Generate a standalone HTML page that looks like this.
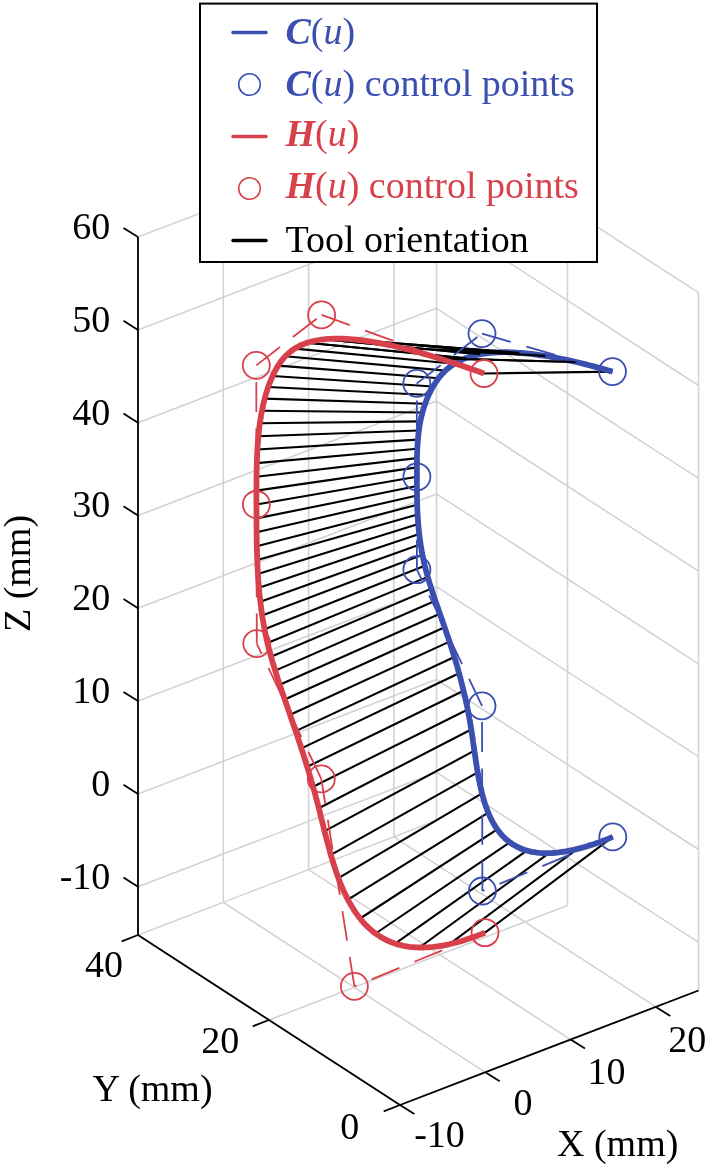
<!DOCTYPE html>
<html><head><meta charset="utf-8"><title>Figure</title>
<style>
html,body{margin:0;padding:0;background:#fff}
svg{display:block}
text{font-family:"Liberation Serif","Times New Roman",serif;font-size:38px}
.g{stroke:#d3d3d3;stroke-width:1.6}
.a{stroke:#000;stroke-width:1.8}
.t{stroke:#000;stroke-width:2.1;fill:none}
.cb{stroke:#3a4fb0;fill:none}
.cr{stroke:#d8404c;fill:none}
.d{stroke-width:1.8;stroke-dasharray:30 16.3}
.k{stroke-width:5.8;stroke-linejoin:round}
.o{stroke-width:1.8}
.o2{stroke-width:1.5}
.lk{stroke-width:3.5;stroke-linecap:round}
.bi{font-weight:bold;font-style:italic}
.i{font-style:italic}
</style></head><body>
<svg width="708" height="1167" viewBox="0 0 708 1167">
<rect width="708" height="1167" fill="#fff"/>
<line x1="138.0" y1="886.7" x2="436.5" y2="772.3" class="g"/>
<line x1="436.5" y1="772.3" x2="698.5" y2="942.3" class="g"/>
<line x1="138.0" y1="793.9" x2="436.5" y2="679.5" class="g"/>
<line x1="436.5" y1="679.5" x2="698.5" y2="849.5" class="g"/>
<line x1="138.0" y1="701.1" x2="436.5" y2="586.7" class="g"/>
<line x1="436.5" y1="586.7" x2="698.5" y2="756.7" class="g"/>
<line x1="138.0" y1="608.3" x2="436.5" y2="493.9" class="g"/>
<line x1="436.5" y1="493.9" x2="698.5" y2="663.9" class="g"/>
<line x1="138.0" y1="515.5" x2="436.5" y2="401.1" class="g"/>
<line x1="436.5" y1="401.1" x2="698.5" y2="571.1" class="g"/>
<line x1="138.0" y1="422.7" x2="436.5" y2="308.3" class="g"/>
<line x1="436.5" y1="308.3" x2="698.5" y2="478.3" class="g"/>
<line x1="138.0" y1="329.9" x2="436.5" y2="215.5" class="g"/>
<line x1="436.5" y1="215.5" x2="698.5" y2="385.5" class="g"/>
<line x1="138.0" y1="237.1" x2="436.5" y2="122.7" class="g"/>
<line x1="436.5" y1="122.7" x2="698.5" y2="292.7" class="g"/>
<line x1="138.0" y1="935.0" x2="138.0" y2="237.1" class="g"/>
<line x1="138.0" y1="935.0" x2="400.0" y2="1105.0" class="g"/>
<line x1="223.3" y1="902.3" x2="223.3" y2="204.4" class="g"/>
<line x1="223.3" y1="902.3" x2="485.3" y2="1072.3" class="g"/>
<line x1="308.6" y1="869.6" x2="308.6" y2="171.7" class="g"/>
<line x1="308.6" y1="869.6" x2="570.6" y2="1039.6" class="g"/>
<line x1="393.9" y1="836.9" x2="393.9" y2="139.0" class="g"/>
<line x1="393.9" y1="836.9" x2="655.9" y2="1006.9" class="g"/>
<line x1="698.5" y1="990.5" x2="698.5" y2="292.7" class="g"/>
<line x1="698.5" y1="990.5" x2="400.0" y2="1105.0" class="g"/>
<line x1="567.5" y1="905.5" x2="567.5" y2="207.7" class="g"/>
<line x1="567.5" y1="905.5" x2="269.0" y2="1020.0" class="g"/>
<line x1="436.5" y1="820.5" x2="436.5" y2="122.7" class="g"/>
<line x1="436.5" y1="820.5" x2="138.0" y2="935.0" class="g"/>
<line x1="138.0" y1="935.0" x2="138.0" y2="237.1" class="a"/>
<line x1="138.0" y1="935.0" x2="400.0" y2="1105.0" class="a"/>
<line x1="400.0" y1="1105.0" x2="698.5" y2="990.5" class="a"/>
<line x1="138.0" y1="886.7" x2="123.5" y2="877.5" class="a"/>
<line x1="138.0" y1="793.9" x2="123.5" y2="784.7" class="a"/>
<line x1="138.0" y1="701.1" x2="123.5" y2="691.9" class="a"/>
<line x1="138.0" y1="608.3" x2="123.5" y2="599.1" class="a"/>
<line x1="138.0" y1="515.5" x2="123.5" y2="506.3" class="a"/>
<line x1="138.0" y1="422.7" x2="123.5" y2="413.5" class="a"/>
<line x1="138.0" y1="329.9" x2="123.5" y2="320.7" class="a"/>
<line x1="138.0" y1="237.1" x2="123.5" y2="227.9" class="a"/>
<line x1="400.0" y1="1105.0" x2="383.7" y2="1111.3" class="a"/>
<line x1="269.0" y1="1020.0" x2="252.7" y2="1026.3" class="a"/>
<line x1="138.0" y1="935.0" x2="121.7" y2="941.3" class="a"/>
<line x1="400.0" y1="1105.0" x2="414.4" y2="1114.0" class="a"/>
<line x1="485.3" y1="1072.3" x2="499.7" y2="1081.3" class="a"/>
<line x1="570.6" y1="1039.6" x2="585.0" y2="1048.6" class="a"/>
<line x1="655.9" y1="1006.9" x2="670.3" y2="1015.9" class="a"/>
<path d="M612.5 371.6L484.0 373.5 M576.2 362.0L439.1 358.4 M545.3 355.9L401.2 347.8 M519.3 352.8L369.8 341.4 M497.7 352.4L344.1 338.7 M480.0 354.3L323.5 339.3 M465.7 358.2L307.3 342.7 M454.4 363.8L294.8 348.6 M445.5 370.6L285.3 356.3 M438.6 378.3L278.1 365.6 M433.1 386.5L272.6 376.0 M428.7 395.0L268.2 387.0 M425.2 403.7L264.7 398.6 M422.4 412.5L261.9 410.8 M420.4 421.4L259.9 423.3 M418.9 430.5L258.4 436.3 M417.9 439.6L257.4 449.5 M417.3 448.8L256.8 463.1 M417.0 458.1L256.5 476.8 M416.9 467.4L256.4 490.6 M416.9 476.7L256.4 504.5 M416.9 486.0L256.5 518.4 M417.0 495.4L256.6 532.3 M417.2 504.8L256.8 546.2 M417.6 514.4L257.3 560.1 M418.3 524.1L257.9 574.0 M419.2 534.1L259.0 587.8 M420.6 544.3L260.3 601.7 M422.5 554.8L262.2 615.5 M424.8 565.7L264.5 629.2 M427.7 576.9L267.5 643.0 M431.3 588.6L271.0 656.7 M435.4 600.8L275.2 670.6 M439.9 613.7L279.7 684.8 M444.6 627.2L284.7 699.5 M449.5 641.6L290.1 714.8 M454.3 657.0L295.6 731.1 M459.1 673.3L301.4 748.4 M463.6 690.8L307.2 766.8 M467.7 709.5L313.1 786.7 M471.2 729.5L318.8 808.2 M474.4 750.7L324.6 831.2 M477.7 772.3L330.9 854.9 M482.0 793.3L338.4 878.1 M488.3 812.7L347.9 899.7 M497.2 829.3L360.1 918.5 M509.8 842.3L375.6 933.5 M526.8 850.6L395.1 943.6 M549.1 853.1L419.4 947.5 M577.4 848.9L449.1 944.3 M612.8 836.9L485.0 932.7" class="t"/>
<polyline points="612.5,371.6 607.6,370.2 602.9,368.9 598.2,367.6 593.6,366.4 589.1,365.2 584.7,364.1 580.4,363.0 576.1,362.0 572.0,361.1 567.9,360.2 563.9,359.3 560.0,358.5 556.2,357.8 552.4,357.1 548.7,356.4 545.2,355.8 541.6,355.3 538.2,354.8 534.8,354.3 531.5,353.9 528.3,353.6 525.2,353.3 522.1,353.0 519.1,352.8 516.2,352.6 513.3,352.4 510.5,352.3 507.8,352.2 505.1,352.2 502.5,352.2 500.0,352.3 497.5,352.4 495.1,352.5 492.7,352.7 490.4,352.9 488.2,353.1 486.0,353.4 483.9,353.6 481.8,354.0 479.8,354.3 477.8,354.7 475.9,355.2 474.1,355.6 472.2,356.1 470.5,356.6 468.8,357.1 467.1,357.7 465.5,358.3 464.0,358.9 462.4,359.5 461.0,360.2 459.5,360.9 458.1,361.6 456.8,362.3 455.5,363.1 454.2,363.9 453.0,364.7 451.8,365.5 450.6,366.3 449.5,367.2 448.4,368.0 447.4,368.9 446.3,369.8 445.3,370.7 444.4,371.6 443.5,372.6 442.5,373.5 441.7,374.5 440.8,375.5 440.0,376.4 439.2,377.4 438.4,378.4 437.7,379.5 437.0,380.5 436.2,381.5 435.6,382.5 434.9,383.6 434.2,384.6 433.6,385.7 433.0,386.7 432.4,387.8 431.8,388.8 431.2,389.9 430.7,391.0 430.1,392.0 429.6,393.1 429.1,394.2 428.6,395.2 428.1,396.3 427.6,397.4 427.2,398.5 426.7,399.6 426.3,400.7 425.9,401.8 425.5,402.8 425.1,403.9 424.7,405.0 424.3,406.1 424.0,407.2 423.6,408.3 423.3,409.4 423.0,410.6 422.7,411.7 422.3,412.8 422.1,413.9 421.8,415.0 421.5,416.1 421.2,417.2 421.0,418.4 420.8,419.5 420.5,420.6 420.3,421.7 420.1,422.9 419.9,424.0 419.7,425.1 419.5,426.3 419.3,427.4 419.2,428.5 419.0,429.7 418.8,430.8 418.7,432.0 418.6,433.1 418.4,434.2 418.3,435.4 418.2,436.5 418.1,437.7 418.0,438.8 417.9,440.0 417.8,441.1 417.7,442.3 417.6,443.4 417.5,444.6 417.5,445.8 417.4,446.9 417.3,448.1 417.3,449.2 417.2,450.4 417.2,451.5 417.1,452.7 417.1,453.9 417.1,455.0 417.0,456.2 417.0,457.4 417.0,458.5 417.0,459.7 417.0,460.9 416.9,462.0 416.9,463.2 416.9,464.3 416.9,465.5 416.9,466.7 416.9,467.8 416.9,469.0 416.9,470.2 416.9,471.3 416.9,472.5 416.9,473.7 416.9,474.8 416.9,476.0 416.9,477.2 416.9,478.4 416.9,479.5 416.9,480.7 416.9,481.9 416.9,483.0 416.9,484.2 416.9,485.4 416.9,486.5 416.9,487.7 416.9,488.9 416.9,490.0 416.9,491.2 416.9,492.4 417.0,493.6 417.0,494.7 417.0,495.9 417.0,497.1 417.0,498.3 417.0,499.5 417.1,500.6 417.1,501.8 417.1,503.0 417.2,504.2 417.2,505.4 417.2,506.6 417.3,507.8 417.3,509.0 417.4,510.2 417.4,511.4 417.5,512.6 417.6,513.8 417.6,515.0 417.7,516.2 417.8,517.4 417.8,518.6 417.9,519.8 418.0,521.1 418.1,522.3 418.2,523.5 418.3,524.8 418.4,526.0 418.5,527.2 418.6,528.5 418.8,529.7 418.9,531.0 419.0,532.2 419.2,533.5 419.3,534.8 419.5,536.0 419.6,537.3 419.8,538.6 420.0,539.8 420.2,541.1 420.3,542.4 420.5,543.7 420.7,545.0 420.9,546.3 421.2,547.6 421.4,548.9 421.6,550.2 421.8,551.6 422.1,552.9 422.3,554.2 422.6,555.6 422.9,556.9 423.2,558.3 423.4,559.6 423.7,561.0 424.0,562.3 424.3,563.7 424.7,565.1 425.0,566.5 425.3,567.9 425.7,569.3 426.1,570.7 426.4,572.1 426.8,573.5 427.2,574.9 427.6,576.3 428.0,577.8 428.4,579.2 428.8,580.7 429.3,582.1 429.7,583.6 430.2,585.1 430.7,586.5 431.1,588.0 431.6,589.5 432.1,591.0 432.6,592.6 433.1,594.1 433.6,595.6 434.1,597.1 434.7,598.7 435.2,600.3 435.7,601.8 436.3,603.4 436.8,605.0 437.4,606.6 438.0,608.2 438.5,609.8 439.1,611.5 439.7,613.1 440.2,614.8 440.8,616.4 441.4,618.1 442.0,619.8 442.6,621.5 443.2,623.2 443.8,624.9 444.4,626.7 445.0,628.4 445.6,630.2 446.2,632.0 446.8,633.8 447.4,635.6 448.1,637.4 448.7,639.2 449.3,641.1 449.9,643.0 450.5,644.8 451.1,646.7 451.7,648.6 452.3,650.6 452.9,652.5 453.6,654.4 454.2,656.4 454.8,658.4 455.4,660.4 456.0,662.4 456.6,664.5 457.2,666.5 457.8,668.6 458.3,670.7 458.9,672.8 459.5,674.9 460.1,677.0 460.7,679.2 461.2,681.4 461.8,683.6 462.3,685.8 462.9,688.0 463.4,690.2 464.0,692.5 464.5,694.8 465.0,697.1 465.6,699.4 466.1,701.8 466.6,704.1 467.1,706.5 467.6,708.9 468.0,711.4 468.5,713.8 469.0,716.3 469.4,718.8 469.9,721.3 470.3,723.8 470.7,726.4 471.2,729.0 471.6,731.6 472.0,734.2 472.4,736.8 472.8,739.5 473.1,742.1 473.5,744.8 473.9,747.5 474.3,750.2 474.7,752.9 475.1,755.6 475.5,758.4 475.9,761.1 476.3,763.8 476.7,766.5 477.1,769.2 477.6,771.9 478.1,774.6 478.5,777.3 479.0,779.9 479.6,782.6 480.1,785.2 480.7,787.8 481.3,790.4 481.9,793.0 482.6,795.5 483.3,798.0 484.0,800.5 484.7,802.9 485.5,805.4 486.4,807.7 487.2,810.1 488.1,812.4 489.1,814.7 490.1,816.9 491.1,819.0 492.2,821.2 493.4,823.2 494.6,825.3 495.8,827.2 497.1,829.2 498.5,831.0 499.9,832.8 501.3,834.5 502.9,836.2 504.5,837.8 506.1,839.4 507.9,840.8 509.6,842.2 511.5,843.5 513.4,844.8 515.5,845.9 517.5,847.0 519.7,848.0 521.9,849.0 524.2,849.8 526.6,850.5 529.1,851.2 531.7,851.8 534.3,852.2 537.1,852.6 539.9,852.9 542.8,853.1 545.8,853.2 548.9,853.1 552.1,853.0 555.4,852.8 558.8,852.4 562.3,851.9 565.9,851.4 569.6,850.7 573.4,849.9 577.4,848.9 581.4,847.9 585.5,846.7 589.8,845.4 594.2,844.0 598.6,842.4 603.2,840.7 608.0,838.9 612.8,836.9" class="cb k"/>
<path d="M576.2 362.0L439.1 358.4 M545.3 355.9L401.2 347.8 M519.3 352.8L369.8 341.4 M497.7 352.4L344.1 338.7 M480.0 354.3L323.5 339.3 M465.7 358.2L307.3 342.7" class="t"/>
<line x1="612.8" y1="836.9" x2="482.4" y2="891.0" class="cb d"/>
<line x1="482.4" y1="891.0" x2="482.0" y2="705.9" class="cb d"/>
<line x1="482.0" y1="705.9" x2="416.9" y2="569.7" class="cb d"/>
<line x1="416.9" y1="569.7" x2="416.9" y2="476.8" class="cb d"/>
<line x1="416.9" y1="476.8" x2="416.8" y2="383.4" class="cb d"/>
<line x1="416.8" y1="383.4" x2="482.0" y2="333.6" class="cb d"/>
<line x1="482.0" y1="333.6" x2="612.5" y2="371.6" class="cb d"/>
<circle cx="612.5" cy="371.6" r="13.5" class="cb o"/>
<circle cx="482" cy="333.6" r="13.5" class="cb o"/>
<circle cx="416.8" cy="383.4" r="13.5" class="cb o"/>
<circle cx="416.9" cy="476.8" r="13.5" class="cb o"/>
<circle cx="416.9" cy="569.7" r="13.5" class="cb o"/>
<circle cx="482" cy="705.9" r="13.5" class="cb o"/>
<circle cx="482.4" cy="891" r="13.5" class="cb o"/>
<circle cx="612.8" cy="836.9" r="13.5" class="cb o"/>
<polyline points="484.0,373.5 478.0,371.3 472.0,369.3 466.2,367.2 460.5,365.3 455.0,363.5 449.5,361.7 444.2,360.0 439.0,358.3 433.8,356.8 428.8,355.3 423.9,353.9 419.2,352.5 414.5,351.2 409.9,350.0 405.4,348.9 401.0,347.8 396.8,346.8 392.6,345.8 388.5,344.9 384.6,344.1 380.7,343.3 376.9,342.6 373.2,342.0 369.6,341.4 366.1,340.9 362.7,340.4 359.3,340.0 356.1,339.6 352.9,339.3 349.8,339.1 346.8,338.9 343.9,338.7 341.1,338.6 338.3,338.6 335.6,338.6 333.0,338.7 330.5,338.8 328.0,338.9 325.6,339.1 323.3,339.4 321.1,339.6 318.9,340.0 316.8,340.3 314.7,340.8 312.7,341.2 310.8,341.7 308.9,342.2 307.1,342.8 305.3,343.4 303.7,344.1 302.0,344.8 300.4,345.5 298.9,346.2 297.4,347.0 296.0,347.8 294.6,348.7 293.3,349.6 292.0,350.5 290.7,351.4 289.5,352.4 288.4,353.4 287.3,354.4 286.2,355.4 285.1,356.5 284.1,357.6 283.2,358.7 282.2,359.8 281.3,361.0 280.4,362.2 279.6,363.4 278.8,364.6 278.0,365.8 277.2,367.1 276.5,368.3 275.8,369.6 275.1,370.9 274.4,372.2 273.8,373.6 273.1,374.9 272.5,376.2 271.9,377.6 271.3,378.9 270.8,380.3 270.2,381.7 269.7,383.1 269.1,384.5 268.6,385.9 268.1,387.3 267.6,388.7 267.2,390.2 266.7,391.6 266.2,393.1 265.8,394.5 265.4,396.0 265.0,397.5 264.6,399.0 264.2,400.5 263.8,402.0 263.5,403.5 263.1,405.0 262.8,406.5 262.5,408.1 262.2,409.6 261.9,411.2 261.6,412.7 261.3,414.3 261.0,415.8 260.8,417.4 260.5,419.0 260.3,420.6 260.0,422.2 259.8,423.8 259.6,425.4 259.4,427.0 259.2,428.6 259.0,430.2 258.8,431.8 258.7,433.5 258.5,435.1 258.4,436.8 258.2,438.4 258.1,440.1 257.9,441.7 257.8,443.4 257.7,445.0 257.6,446.7 257.5,448.4 257.4,450.1 257.3,451.8 257.2,453.4 257.1,455.1 257.1,456.8 257.0,458.5 256.9,460.2 256.9,461.9 256.8,463.6 256.8,465.3 256.7,467.1 256.7,468.8 256.6,470.5 256.6,472.2 256.6,473.9 256.6,475.7 256.5,477.4 256.5,479.1 256.5,480.8 256.5,482.6 256.5,484.3 256.5,486.0 256.5,487.8 256.4,489.5 256.4,491.3 256.4,493.0 256.4,494.7 256.4,496.5 256.4,498.2 256.4,500.0 256.4,501.7 256.4,503.5 256.5,505.2 256.5,506.9 256.5,508.7 256.5,510.4 256.5,512.2 256.5,513.9 256.5,515.7 256.5,517.4 256.5,519.1 256.5,520.9 256.5,522.6 256.5,524.4 256.5,526.1 256.5,527.9 256.6,529.6 256.6,531.3 256.6,533.1 256.6,534.8 256.6,536.6 256.7,538.3 256.7,540.0 256.7,541.8 256.8,543.5 256.8,545.3 256.8,547.0 256.9,548.8 256.9,550.5 257.0,552.2 257.0,554.0 257.1,555.7 257.2,557.5 257.2,559.2 257.3,560.9 257.4,562.7 257.4,564.4 257.5,566.2 257.6,567.9 257.7,569.6 257.8,571.4 257.9,573.1 258.0,574.8 258.1,576.6 258.2,578.3 258.3,580.0 258.5,581.8 258.6,583.5 258.7,585.3 258.9,587.0 259.0,588.7 259.2,590.5 259.3,592.2 259.5,593.9 259.7,595.7 259.9,597.4 260.1,599.1 260.3,600.9 260.5,602.6 260.7,604.3 260.9,606.0 261.1,607.8 261.3,609.5 261.6,611.2 261.8,613.0 262.1,614.7 262.3,616.4 262.6,618.2 262.9,619.9 263.2,621.6 263.5,623.3 263.8,625.1 264.1,626.8 264.4,628.5 264.7,630.2 265.1,632.0 265.4,633.7 265.8,635.4 266.2,637.1 266.5,638.8 266.9,640.6 267.3,642.3 267.7,644.0 268.1,645.7 268.6,647.4 269.0,649.2 269.5,650.9 269.9,652.6 270.4,654.3 270.9,656.0 271.3,657.8 271.8,659.5 272.3,661.2 272.8,663.0 273.4,664.7 273.9,666.4 274.4,668.2 275.0,669.9 275.5,671.7 276.1,673.5 276.6,675.2 277.2,677.0 277.8,678.8 278.4,680.6 278.9,682.4 279.5,684.2 280.1,686.0 280.8,687.8 281.4,689.6 282.0,691.4 282.6,693.3 283.3,695.1 283.9,697.0 284.5,698.9 285.2,700.7 285.8,702.6 286.5,704.5 287.2,706.5 287.8,708.4 288.5,710.3 289.2,712.3 289.9,714.2 290.6,716.2 291.2,718.2 291.9,720.2 292.6,722.2 293.3,724.3 294.0,726.3 294.7,728.4 295.5,730.5 296.2,732.6 296.9,734.7 297.6,736.8 298.3,739.0 299.0,741.2 299.8,743.3 300.5,745.5 301.2,747.8 301.9,750.0 302.7,752.3 303.4,754.6 304.1,756.9 304.8,759.2 305.6,761.5 306.3,763.9 307.0,766.3 307.8,768.7 308.5,771.1 309.2,773.6 310.0,776.0 310.7,778.5 311.4,781.1 312.2,783.6 312.9,786.2 313.6,788.8 314.4,791.4 315.1,794.0 315.8,796.7 316.5,799.4 317.2,802.1 318.0,804.9 318.7,807.7 319.4,810.5 320.1,813.3 320.8,816.2 321.5,819.0 322.3,821.9 323.0,824.8 323.7,827.8 324.4,830.7 325.2,833.7 325.9,836.6 326.7,839.6 327.5,842.6 328.3,845.5 329.1,848.5 329.9,851.5 330.7,854.4 331.6,857.4 332.5,860.3 333.4,863.3 334.3,866.2 335.3,869.1 336.2,872.0 337.2,874.8 338.3,877.7 339.3,880.5 340.4,883.3 341.6,886.1 342.7,888.8 343.9,891.5 345.2,894.1 346.4,896.8 347.8,899.4 349.1,901.9 350.5,904.4 352.0,906.8 353.5,909.2 355.0,911.6 356.6,913.9 358.2,916.1 359.9,918.3 361.6,920.4 363.4,922.5 365.3,924.5 367.2,926.4 369.1,928.3 371.2,930.0 373.2,931.8 375.4,933.4 377.6,934.9 379.9,936.4 382.2,937.8 384.6,939.1 387.1,940.4 389.6,941.5 392.3,942.6 394.9,943.5 397.7,944.4 400.5,945.1 403.5,945.8 406.5,946.3 409.5,946.8 412.7,947.1 415.9,947.4 419.3,947.5 422.7,947.5 426.2,947.4 429.7,947.2 433.4,946.9 437.2,946.4 441.0,945.8 445.0,945.1 449.0,944.3 453.2,943.3 457.4,942.2 461.8,941.0 466.2,939.6 470.7,938.1 475.4,936.4 480.1,934.6 485.0,932.7" class="cr k"/>
<line x1="485.0" y1="932.7" x2="354.4" y2="986.4" class="cr d"/>
<line x1="354.4" y1="986.4" x2="321.3" y2="778.9" class="cr d"/>
<line x1="321.3" y1="778.9" x2="256.8" y2="643.6" class="cr d"/>
<line x1="256.8" y1="643.6" x2="256.4" y2="504.5" class="cr d"/>
<line x1="256.4" y1="504.5" x2="256.3" y2="365.4" class="cr d"/>
<line x1="256.3" y1="365.4" x2="321.6" y2="314.9" class="cr d"/>
<line x1="321.6" y1="314.9" x2="484.0" y2="373.5" class="cr d"/>
<circle cx="484" cy="373.5" r="13.5" class="cr o"/>
<circle cx="321.6" cy="314.9" r="13.5" class="cr o"/>
<circle cx="256.3" cy="365.4" r="13.5" class="cr o"/>
<circle cx="256.4" cy="504.5" r="13.5" class="cr o"/>
<circle cx="256.8" cy="643.6" r="13.5" class="cr o"/>
<circle cx="321.3" cy="778.9" r="13.5" class="cr o"/>
<circle cx="354.4" cy="986.4" r="13.5" class="cr o"/>
<circle cx="485" cy="932.7" r="13.5" class="cr o"/>
<rect x="200" y="3.6" width="397" height="258.4" fill="#fff" stroke="#000" stroke-width="2"/>
<line x1="233" y1="32.5" x2="266" y2="32.5" class="cb lk"/>
<circle cx="249.5" cy="84.5" r="10.8" class="cb o2"/>
<line x1="233" y1="136.5" x2="266" y2="136.5" class="cr lk"/>
<circle cx="249.5" cy="188.5" r="10.8" class="cr o2"/>
<line x1="233" y1="240.5" x2="266" y2="240.5" stroke="#000" class="lk"/>
<text x="285.5" y="43.8" style="fill:#3a4fb0"><tspan class="bi">C</tspan>(<tspan class="i">u</tspan>)</text>
<text x="285.5" y="95.8" style="fill:#3a4fb0"><tspan class="bi">C</tspan>(<tspan class="i">u</tspan>) control points</text>
<text x="285.5" y="146.2" style="fill:#d8404c"><tspan class="bi">H</tspan>(<tspan class="i">u</tspan>)</text>
<text x="285.5" y="197.8" style="fill:#d8404c"><tspan class="bi">H</tspan>(<tspan class="i">u</tspan>) control points</text>
<text x="285.5" y="251.5" style="fill:#000">Tool orientation</text>
<text x="110.3" y="888.5" text-anchor="end">-10</text>
<text x="110.3" y="795.7" text-anchor="end">0</text>
<text x="110.3" y="702.9" text-anchor="end">10</text>
<text x="110.3" y="610.1" text-anchor="end">20</text>
<text x="110.3" y="517.3" text-anchor="end">30</text>
<text x="110.3" y="424.5" text-anchor="end">40</text>
<text x="110.3" y="331.7" text-anchor="end">50</text>
<text x="110.3" y="238.9" text-anchor="end">60</text>
<text x="103.9" y="977" text-anchor="middle">40</text>
<text x="220.2" y="1052.7" text-anchor="middle">20</text>
<text x="349.8" y="1138.5" text-anchor="middle">0</text>
<text x="439.5" y="1147" text-anchor="middle">-10</text>
<text x="523.1" y="1115" text-anchor="middle">0</text>
<text x="606.4" y="1083.7" text-anchor="middle">10</text>
<text x="687.2" y="1051.5" text-anchor="middle">20</text>
<text transform="translate(30,573.5) rotate(-90)" text-anchor="middle">Z (mm)</text>
<text x="152.6" y="1101.4" text-anchor="middle">Y (mm)</text>
<text x="617.7" y="1155.5" text-anchor="middle">X (mm)</text>
</svg>
</body></html>
